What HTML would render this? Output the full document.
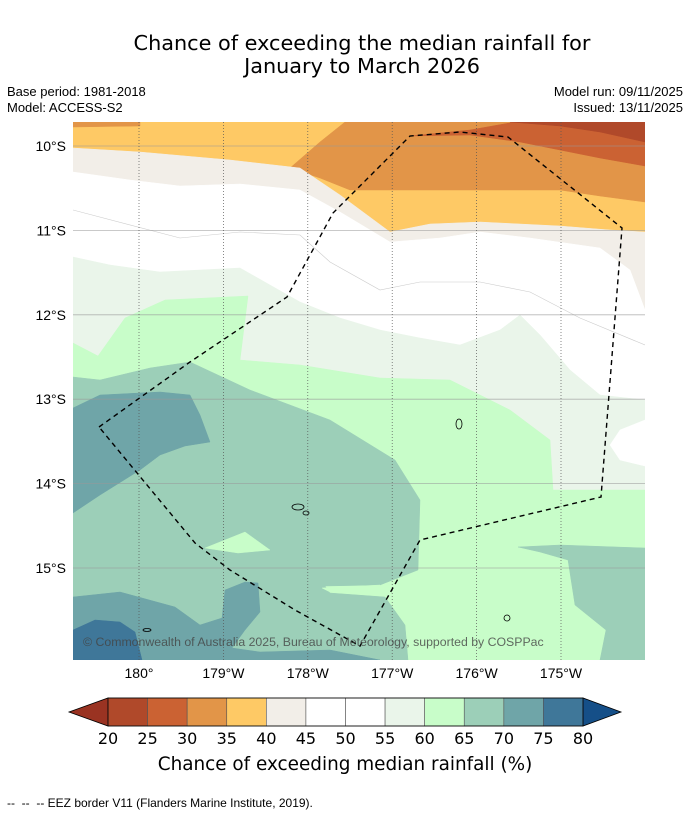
<!DOCTYPE html>
<html><head><meta charset="utf-8">
<style>
body{margin:0;background:#fff;width:690px;height:816px;overflow:hidden;font-family:"Liberation Sans","DejaVu Sans",sans-serif}
svg{position:absolute;left:0;top:0}
</style></head>
<body>
<svg id="s" width="690" height="816" viewBox="0 0 690 816">
<defs><clipPath id="mc"><rect x="73" y="122" width="572" height="538"/></clipPath></defs>
<text x="362" y="50" font-size="20.8" text-anchor="middle" fill="#000" font-family="DejaVu Sans, Liberation Sans, sans-serif">Chance of exceeding the median rainfall for</text>
<text x="362" y="73" font-size="20.8" text-anchor="middle" fill="#000" font-family="DejaVu Sans, Liberation Sans, sans-serif">January to March 2026</text>
<text x="7" y="96" font-size="13">Base period: 1981-2018</text>
<text x="7" y="112" font-size="13">Model: ACCESS-S2</text>
<text x="683" y="96" font-size="13" text-anchor="end">Model run: 09/11/2025</text>
<text x="683" y="112" font-size="13" text-anchor="end">Issued: 13/11/2025</text>
<g id="map" clip-path="url(#mc)"></g>
<g id="axes"></g>
<g id="cbar"></g>
<text x="345" y="770" font-size="18.4" text-anchor="middle" font-family="DejaVu Sans, Liberation Sans, sans-serif">Chance of exceeding median rainfall (%)</text>
<text x="7" y="807" font-size="12" xml:space="preserve">--  --  -- EEZ border V11 (Flanders Marine Institute, 2019).</text>
</svg>
<script>
const NS="http://www.w3.org/2000/svg";
const levels=[20,25,30,35,40,45,50,55,60,65,70,75,80];
const levelColors=["#b0492a","#cb6233","#e29548","#fec965","#f2eee8","#ffffff","#ffffff","#eaf5ea","#c8fdc9","#9ccfb8","#6fa5a8","#3f7799"];
const underColor="#9a3322", overColor="#154f88";
const latTicks=[10,11,12,13,14,15];
const latLabels=["10°S","11°S","12°S","13°S","14°S","15°S"];
const lonTicks=[180,181,182,183,184,185];
const lonLabels=["180°","179°W","178°W","177°W","176°W","175°W"];
const X=lon=>139+(lon-180)*84.4;
const Y=lat=>146+(lat-10)*84.4;
function el(t,a,p){const e=document.createElementNS(NS,t);for(const k in a)e.setAttribute(k,a[k]);p.appendChild(e);return e;}
const map=document.getElementById('map');
const regions=[
 [3,"73,122 645,122 645,660 73,660"],
 [2,"73,122 140,122 140,126 73,127"],
 [2,"345,122 645,122 645,202 600,196 560,190 450,190 350,190 320,178 290,168 320,142"],
 [1,"410,136 470,130 515,122 645,122 645,166 600,158 560,150 520,142 470,135"],
 [0,"510,122 645,122 645,142 600,132 560,126"],
 [4,"73,148 140,152 230,160 300,168 340,195 390,232 430,224 480,222 560,226 610,230 645,232 645,660 73,660"],
 [5,"73,172 130,180 180,186 240,184 300,190 340,212 390,242 440,238 480,232 530,238 600,248 630,270 645,310 645,660 73,660"],
 [7,"73,257 110,265 160,272 240,268 300,302 340,318 380,330 420,338 460,345 500,330 520,315 540,335 570,370 600,395 645,400 645,660 73,660"],
 [5,"645,420 620,430 610,445 620,460 645,466"],
 [8,"73,343 98,356 125,318 165,300 248,296 240,360 300,365 380,378 450,380 510,410 550,440 553,490 645,490 645,660 73,660"],
 [9,"73,377 100,380 150,368 190,362 250,390 330,420 395,460 420,500 418,570 380,585 325,586 330,593 385,597 405,625 408,660 73,660"],
 [9,"518,547 560,545 645,548 645,660 600,660 606,630 575,605 568,560 540,552"],
 [8,"205,548 245,532 270,550 238,553"],
 [8,"322,588 380,585 375,591 330,592"],
 [10,"73,408 100,395 160,392 190,395 200,415 210,442 185,446 160,455 140,470 100,495 73,513"],
 [10,"73,597 120,592 175,607 200,625 222,618 225,590 245,582 258,583 260,612 245,630 232,648 260,652 330,650 380,660 73,660"],
 [11,"73,630 95,620 120,622 135,632 142,660 73,660"]
];
regions.forEach((r,i)=>{
 const p=el('polygon',{points:r[1],fill:levelColors[r[0]],stroke:levelColors[r[0]],'stroke-width':0.5},map);
 
 
});
el('polyline',{points:"73,210 180,238 240,232 300,235 330,262 380,290 420,282 480,282 530,292 580,318 645,345",fill:"none",stroke:"#ccc",'stroke-width':0.6},map);
latTicks.forEach(l=>{const g=el('line',{x1:73,x2:645,y1:Y(l),y2:Y(l),stroke:"#999",'stroke-width':0.8,opacity:0.7},map);
 });
lonTicks.forEach(l=>{const g=el('line',{x1:X(l),x2:X(l),y1:122,y2:660,stroke:"#555",'stroke-width':0.7,'stroke-dasharray':'1,2'},map);
 });
[[459,424,3,5],[298,507,6,3],[306,513,3,2],[507,618,3,3],[147,630,4,1.5]].forEach(c=>{
 const e=el('ellipse',{cx:c[0],cy:c[1],rx:c[2],ry:c[3],fill:"none",stroke:"#000",'stroke-width':0.8},map);
 });
const eez=el('polygon',{points:"99,427 190,362 287,297 333,213 410,136 460,132 508,137 622,228 601,497 420,540 360,646 295,610 230,570 195,543",fill:"none",stroke:"#000",'stroke-width':1.4,'stroke-dasharray':'5,4'},map);

const cp=el('text',{x:83,y:646,'font-size':12.3,fill:"#444",opacity:0.8},map);
cp.textContent="© Commonwealth of Australia 2025, Bureau of Meteorology, supported by COSPPac";

const ax=document.getElementById('axes');
latTicks.forEach((l,i)=>{const t=el('text',{x:66,y:Y(l)+5,'font-size':14,'text-anchor':'end'},ax);t.textContent=latLabels[i];
 });
lonTicks.forEach((l,i)=>{const t=el('text',{x:X(l),y:678,'font-size':14,'text-anchor':'middle'},ax);t.textContent=lonLabels[i];
 });
const cb=document.getElementById('cbar');
const cx0=108,cx1=583,cy0=698,cy1=726,w=(cx1-cx0)/levelColors.length;
const ua=el('polygon',{points:`${cx0},${cy0} ${cx0},${cy1} 69,${(cy0+cy1)/2}`,fill:underColor,stroke:"#000",'stroke-width':0.8},cb);

const oa=el('polygon',{points:`${cx1},${cy0} ${cx1},${cy1} 621,${(cy0+cy1)/2}`,fill:overColor,stroke:"#000",'stroke-width':0.8},cb);

levelColors.forEach((c,i)=>{const r=el('rect',{x:cx0+i*w,y:cy0,width:w,height:cy1-cy0,fill:c,stroke:"#555",'stroke-width':0.6},cb);
 });
el('rect',{x:cx0,y:cy0,width:cx1-cx0,height:cy1-cy0,fill:"none",stroke:"#000",'stroke-width':0.8},cb);
levels.forEach((v,i)=>{const t=el('text',{x:cx0+i*w,y:744,'font-size':16,'text-anchor':'middle','font-family':'DejaVu Sans, Liberation Sans, sans-serif'},cb);t.textContent=v;
 });
</script>
</body></html>
